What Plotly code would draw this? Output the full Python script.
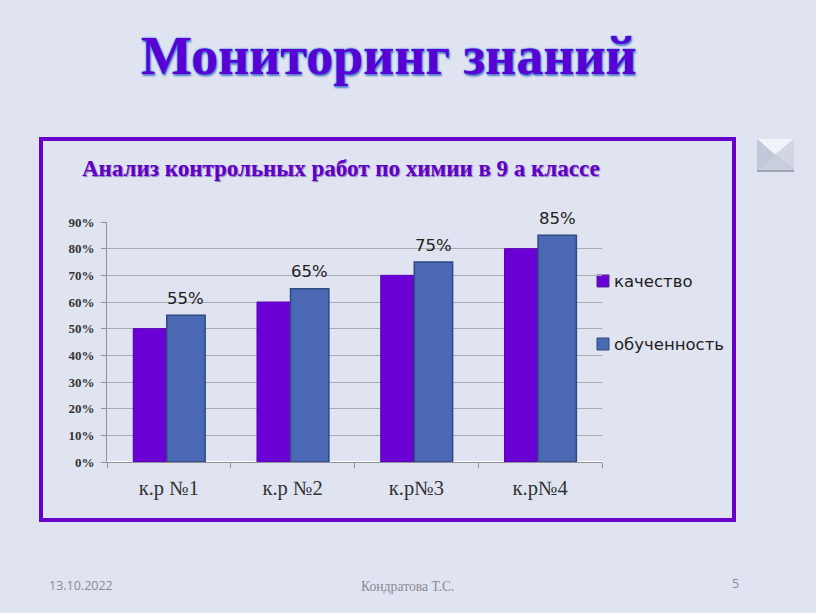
import plotly.graph_objects as go

categories = ["к.р №1", "к.р №2", "к.р№3", "к.р№4"]
kachestvo = [0.50, 0.60, 0.70, 0.80]
obuchennost = [0.55, 0.65, 0.75, 0.85]
labels = ["55%", "65%", "75%", "85%"]
series_names = ["качество", "обученность"]

W, H = 816, 613
L, R, T, B = 107, 602, 222, 462
PURPLE = "#6A00D4"
BLUE = "#4A68B4"
BG = "#E0E4F1"

def px(x):
    return (x - L) / (R - L)

def py(y):
    return (B - y) / (B - T)

fig = go.Figure()
fig.add_bar(x=categories, y=kachestvo, name=series_names[0], offset=-0.288, width=0.31,
            marker=dict(color=PURPLE, line=dict(color="#5A00B8", width=1)), hoverinfo="skip")
fig.add_bar(x=categories, y=obuchennost, name=series_names[1], offset=-0.017, width=0.31,
            marker=dict(color=BLUE, line=dict(color="#2F4A80", width=1.5)), hoverinfo="skip")

# value labels, placed from the data
for i, (v, lab) in enumerate(zip(obuchennost, labels)):
    fig.add_annotation(x=i + 0.138, y=v, xref="x", yref="y", text=lab, showarrow=False,
                       yanchor="middle", yshift=17,
                       font=dict(family="DejaVu Sans", size=16.5, color="#222222"))

def note(text, x, y, size, color, family="Liberation Serif", bold=False, shadow=None, anchor="center"):
    font = dict(family=family, size=size, color=color)
    if bold:
        font["weight"] = "bold"
    if shadow:
        font["shadow"] = shadow
    fig.add_annotation(text=text, xref="paper", yref="paper", x=px(x), y=py(y),
                       xanchor=anchor, yanchor="middle", showarrow=False, font=font)

note("Мониторинг знаний", 389, 56, 54, "#5B00D2", bold=True,
     shadow="0 0 1px #1E78F0, 0 0 2px #1E78F0, 1px 2px 2px #5A7FC0")
note("Анализ контрольных работ по химии в 9 а классе", 341, 169, 23, "#5F00C8", bold=True,
     shadow="1px 1px 1px #8A7AB8")
note("13.10.2022", 47, 585, 12.5, "#8A8A94", family="Open Sans", anchor="left")
note("Кондратова Т.С.", 408, 586, 13.7, "#8A8A94", family="Liberation Serif")
note("5", 735, 583, 12.5, "#8A8A94", family="Open Sans")

# legend entries
note(series_names[0], 612, 281, 16.5, "#222222", family="DejaVu Sans", anchor="left")
note(series_names[1], 612, 344, 16.5, "#222222", family="DejaVu Sans", anchor="left")

def path(points):
    return "M " + " L ".join(f"{px(a)} {py(b)}" for a, b in points) + " Z"

def rect(x0, x1, y0, y1, fill, line=None, width=0):
    return dict(type="rect", xref="paper", yref="paper", x0=px(x0), x1=px(x1), y0=py(y0), y1=py(y1),
                line=dict(color=line, width=width), fillcolor=fill, layer="below")

def tri(points, fill):
    return dict(type="path", xref="paper", yref="paper", path=path(points),
                line=dict(width=0), fillcolor=fill, layer="below")

shapes = [
    rect(41, 734, 139, 520, "rgba(0,0,0,0)", "#6600CC", 4),
    rect(597, 609, 275, 287, PURPLE, "#4A2A90", 1),
    rect(597, 609, 338, 350, BLUE, "#2F4A80", 1),
    rect(757, 794, 140, 172, "#A0A5B4"),
    tri([(757, 139), (794, 139), (775, 155)], "#F1F3F9"),
    tri([(757, 139), (775, 155), (757, 170)], "#C3C9DA"),
    tri([(794, 139), (775, 155), (794, 170)], "#D2D6E3"),
    tri([(757, 170), (775, 155), (794, 170)], "#C9CEDD"),
]

fig.update_layout(
    width=W, height=H, autosize=False,
    margin=dict(l=L, r=W - R, t=T, b=H - B, pad=0),
    paper_bgcolor=BG, plot_bgcolor=BG,
    barmode="overlay", showlegend=False, shapes=shapes,
    xaxis=dict(type="category", tickson="boundaries", ticks="outside", ticklen=5, tickcolor="#8E9198",
               showline=True, linecolor="#8E9198", linewidth=1, showgrid=False, ticklabelstandoff=7,
               tickfont=dict(family="Liberation Serif", size=20.5, color="#333333")),
    yaxis=dict(range=[0, 0.9], dtick=0.1, tickformat=".0%", ticks="outside", ticklen=5,
               tickcolor="#8E9198", showline=True, linecolor="#8E9198", showgrid=True,
               gridcolor="#A8ABB2", gridwidth=1, ticklabelstandoff=4,
               tickfont=dict(family="Liberation Serif", size=13, color="#333333", weight="bold")),
)
fig.write_html("out.html", config=dict(displayModeBar=False),
               post_script="document.body.style.margin='0';document.documentElement.style.background='#E0E4F1';")
